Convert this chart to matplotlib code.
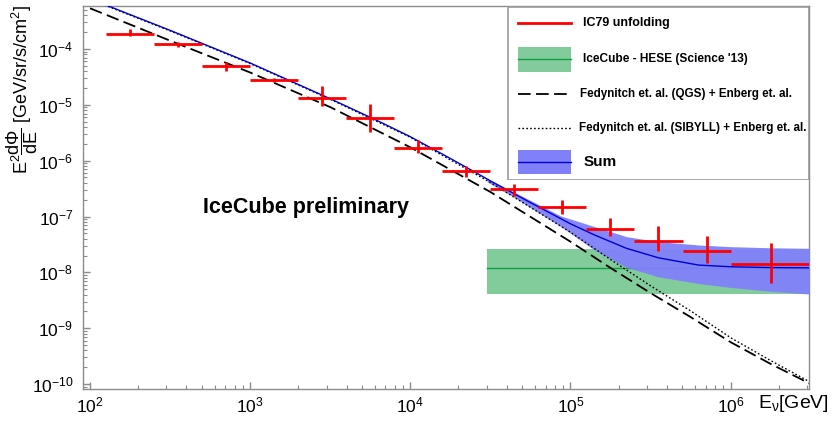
import numpy as np
import matplotlib
matplotlib.use("Agg")
import matplotlib.pyplot as plt
from matplotlib.patches import Rectangle
from matplotlib.ticker import FixedLocator, FixedFormatter, LogLocator, NullFormatter

plt.rcParams['font.family'] = ['Liberation Sans', 'DejaVu Sans']
plt.rcParams['mathtext.fontset'] = 'custom'
plt.rcParams['mathtext.rm'] = 'Liberation Sans'
plt.rcParams['mathtext.it'] = 'Liberation Sans'
plt.rcParams['mathtext.bf'] = 'Liberation Sans:bold'

# ---------------- data ----------------
# IC79 unfolding: bin edges in log10(E/GeV), flux and error band
bin_lo_log = [2.1, 2.4, 2.7, 3.0, 3.3, 3.6, 3.9, 4.2, 4.5, 4.8, 5.1, 5.4, 5.7, 6.0]
bin_hi_log = [2.4, 2.7, 3.0, 3.3, 3.6, 3.9, 4.2, 4.5, 4.8, 5.1, 5.4, 5.7, 6.0, 6.5]
flux = [1.86e-4, 1.23e-4, 5.0e-5, 2.78e-5, 1.32e-5, 5.8e-6, 1.68e-6, 6.5e-7,
        3.1e-7, 1.48e-7, 5.9e-8, 3.6e-8, 2.4e-8, 1.4e-8]
flux_up = [2.3e-4, 1.35e-4, 5.9e-5, 3.0e-5, 2.2e-5, 1.02e-5, 2.3e-6, 7.9e-7,
           3.8e-7, 1.95e-7, 9.3e-8, 6.8e-8, 4.5e-8, 3.3e-8]
flux_lo = [1.7e-4, 1.1e-4, 4.1e-5, 2.55e-5, 9.5e-6, 3.2e-6, 1.38e-6, 5.1e-7,
           2.3e-7, 1.1e-7, 4.5e-8, 2.4e-8, 1.5e-8, 6.5e-9]

# IceCube HESE (Science '13)
hese_E = [3.0e4, 3.2e6]
hese_center = 1.2e-8
hese_upper = 2.6e-8
hese_lower = 4.1e-9

# Fedynitch et al. (QGS) + Enberg et al.  (log10 E, log10 flux)
qgs_logE = [2.0, 2.5, 3.0, 3.5, 4.0, 4.5, 5.0, 5.25, 5.5, 5.75, 6.0, 6.25, 6.5]
qgs_logF = [-3.27, -3.85, -4.42, -5.04, -5.76, -6.56, -7.45, -7.92, -8.37, -8.80,
            -9.25, -9.64, -10.0]
# Fedynitch et al. (SIBYLL) + Enberg et al.
sib_logE = [2.0, 2.5, 3.0, 3.5, 4.0, 4.5, 5.0, 5.25, 5.5, 5.75, 6.0, 6.25, 6.5]
sib_logF = [-3.11, -3.675, -4.26, -4.90, -5.58, -6.39, -7.28, -7.77, -8.24, -8.69,
            -9.17, -9.58, -9.97]

# Sum
sum_logE = [2.0, 2.5, 3.0, 3.5, 3.8, 4.0, 4.25, 4.5, 4.75, 5.0, 5.15, 5.35, 5.55,
            5.8, 6.0, 6.25, 6.5]
sum_logF = [-3.10, -3.665, -4.25, -4.89, -5.29, -5.57, -5.96, -6.36, -6.75, -7.13,
            -7.33, -7.57, -7.74, -7.87, -7.90, -7.915, -7.92]
band_logE = [4.48, 4.64, 4.75, 4.94, 5.15, 5.35, 5.55, 5.8, 6.0, 6.25, 6.5]
band_up_logF = [-6.33, -6.55, -6.71, -6.99, -7.18, -7.36, -7.45, -7.51, -7.54,
                -7.56, -7.57]
band_lo_logF = [-6.38, -6.64, -6.84, -7.18, -7.60, -7.91, -8.08, -8.20, -8.27,
                -8.34, -8.39]

xtick_vals = [1e2, 1e3, 1e4, 1e5, 1e6]
xtick_labels = ['$10^{2}$', '$10^{3}$', '$10^{4}$', '$10^{5}$', '$10^{6}$']
ytick_vals = [1e-10, 1e-9, 1e-8, 1e-7, 1e-6, 1e-5, 1e-4]
ytick_labels = ['$10^{-10}$', '$10^{-9}$', '$10^{-8}$', '$10^{-7}$', '$10^{-6}$',
                '$10^{-5}$', '$10^{-4}$']

# ---------------- figure ----------------
W, H = 832, 421
fig = plt.figure(figsize=(W / 100, H / 100), dpi=100)
ax_l, ax_r, ax_t, ax_b = 83, 809, 6, 389
ax = fig.add_axes([ax_l / W, 1 - ax_b / H, (ax_r - ax_l) / W, (ax_b - ax_t) / H])
ax.set_xscale('log')
ax.set_yscale('log')
ax.set_xlim(10 ** 1.956, 10 ** 6.49)
ax.set_ylim(10 ** -10.09, 10 ** -3.229)

green_fill = '#82cb9a'
green_line = '#10a040'
blue_fill = '#8080fb'
blue_line = '#0000d0'

ax.fill_between(hese_E, [hese_lower] * 2, [hese_upper] * 2, color=green_fill,
                lw=0, zorder=1)
ax.plot(hese_E, [hese_center] * 2, color=green_line, lw=1.0, zorder=2)

bE = 10 ** np.array(band_logE)
ax.fill_between(bE, 10 ** np.array(band_lo_logF), 10 ** np.array(band_up_logF),
                color=blue_fill, lw=0, alpha=0.95, zorder=3)

ax.plot(10 ** np.array(qgs_logE), 10 ** np.array(qgs_logF), color='black', lw=1.3,
        dashes=(7, 3), zorder=4)
ax.plot(10 ** np.array(sib_logE), 10 ** np.array(sib_logF), color='black', lw=1.0,
        dashes=(1.2, 1.6), zorder=4)
ax.plot(10 ** np.array(sum_logE), 10 ** np.array(sum_logF), color=blue_line, lw=1.0,
        zorder=5)

lo = 10 ** np.array(bin_lo_log)
hi = 10 ** np.array(bin_hi_log)
xc = 10 ** ((np.array(bin_lo_log) + np.array(bin_hi_log)) / 2)
f = np.array(flux)
ax.errorbar(xc, f, xerr=[xc - lo, hi - xc],
            yerr=[f - np.array(flux_lo), np.array(flux_up) - f],
            fmt='none', ecolor='#ff0000', elinewidth=2.0, capsize=0, zorder=6)

# axes styling
for s in ax.spines.values():
    s.set_color('#8c8c8c')
    s.set_linewidth(1.0)
ax.xaxis.set_major_locator(FixedLocator(xtick_vals))
ax.xaxis.set_major_formatter(FixedFormatter(xtick_labels))
ax.yaxis.set_major_locator(FixedLocator(ytick_vals))
ax.yaxis.set_major_formatter(FixedFormatter(ytick_labels))
ax.xaxis.set_minor_locator(LogLocator(base=10, subs=np.arange(2, 10), numticks=50))
ax.yaxis.set_minor_locator(LogLocator(base=10, subs=np.arange(2, 10), numticks=50))
ax.xaxis.set_minor_formatter(NullFormatter())
ax.yaxis.set_minor_formatter(NullFormatter())
ax.tick_params(which='both', direction='in', color='#8c8c8c', top=False, right=False)
ax.tick_params(which='major', length=5, width=1, labelsize=12.5, labelcolor='black')
ax.tick_params(which='minor', length=3, width=0.8)
ax.tick_params(axis='y', which='major', pad=7)
ax.tick_params(axis='x', which='major', pad=5)

# labels
fig.text(22 / W, 1 - 90 / H,
         r'$\mathrm{E^{2}\dfrac{d\Phi}{dE}}$ [GeV/sr/s/cm$^{2}$]',
         rotation=90, ha='center', va='center', fontsize=13)
fig.text(829 / W, 1 - 404 / H, r'E$_{\nu}$[GeV]', ha='right', va='center',
         fontsize=14)
fig.text(203 / W, 1 - 208 / H, 'IceCube preliminary', ha='left', va='center',
         fontsize=15.5, fontweight='bold')

# legend (drawn in its own pixel-based axes)
lg_l, lg_r, lg_t, lg_b = 507, 809, 6, 180
lax = fig.add_axes([lg_l / W, 1 - lg_b / H, (lg_r - lg_l) / W, (lg_b - lg_t) / H])
lax.set_xlim(0, lg_r - lg_l)
lax.set_ylim(lg_b - lg_t, 0)
lax.axis('off')
lax.add_patch(Rectangle((0.5, 0.5), lg_r - lg_l - 1, lg_b - lg_t - 1, facecolor='white',
                        edgecolor='#9a9a9a', lw=1.2, zorder=0))
sx0, sx1 = 11, 64
rows = [17, 53, 88, 122, 156]
lax.plot([sx0, sx1], [rows[0]] * 2, color='#ff0000', lw=2)
lax.add_patch(Rectangle((sx0, rows[1] - 12.5), sx1 - sx0, 25, facecolor=green_fill,
                        lw=0))
lax.plot([sx0, sx1], [rows[1]] * 2, color=green_line, lw=1)
lax.plot([sx0, sx1], [rows[2]] * 2, color='black', lw=1.3, dashes=(7, 3))
lax.plot([sx0, sx1], [rows[3]] * 2, color='black', lw=1.0, dashes=(1.2, 1.6))
lax.add_patch(Rectangle((sx0, rows[4] - 12), sx1 - sx0, 24, facecolor=blue_fill, lw=0))
lax.plot([sx0, sx1], [rows[4]] * 2, color=blue_line, lw=1)
labels = ['IC79 unfolding', "IceCube - HESE (Science '13)",
          'Fedynitch et. al. (QGS) + Enberg et. al.',
          'Fedynitch et. al. (SIBYLL) + Enberg et. al.', 'Sum']
txs = [76, 76, 73, 72, 77]
sizes = [9, 8.6, 8.4, 8.35, 11]
for r, t, x, s in zip(rows, labels, txs, sizes):
    lax.text(x, r, t, ha='left', va='center', fontsize=s, fontweight='bold')

fig.savefig('out.png', dpi=100)
